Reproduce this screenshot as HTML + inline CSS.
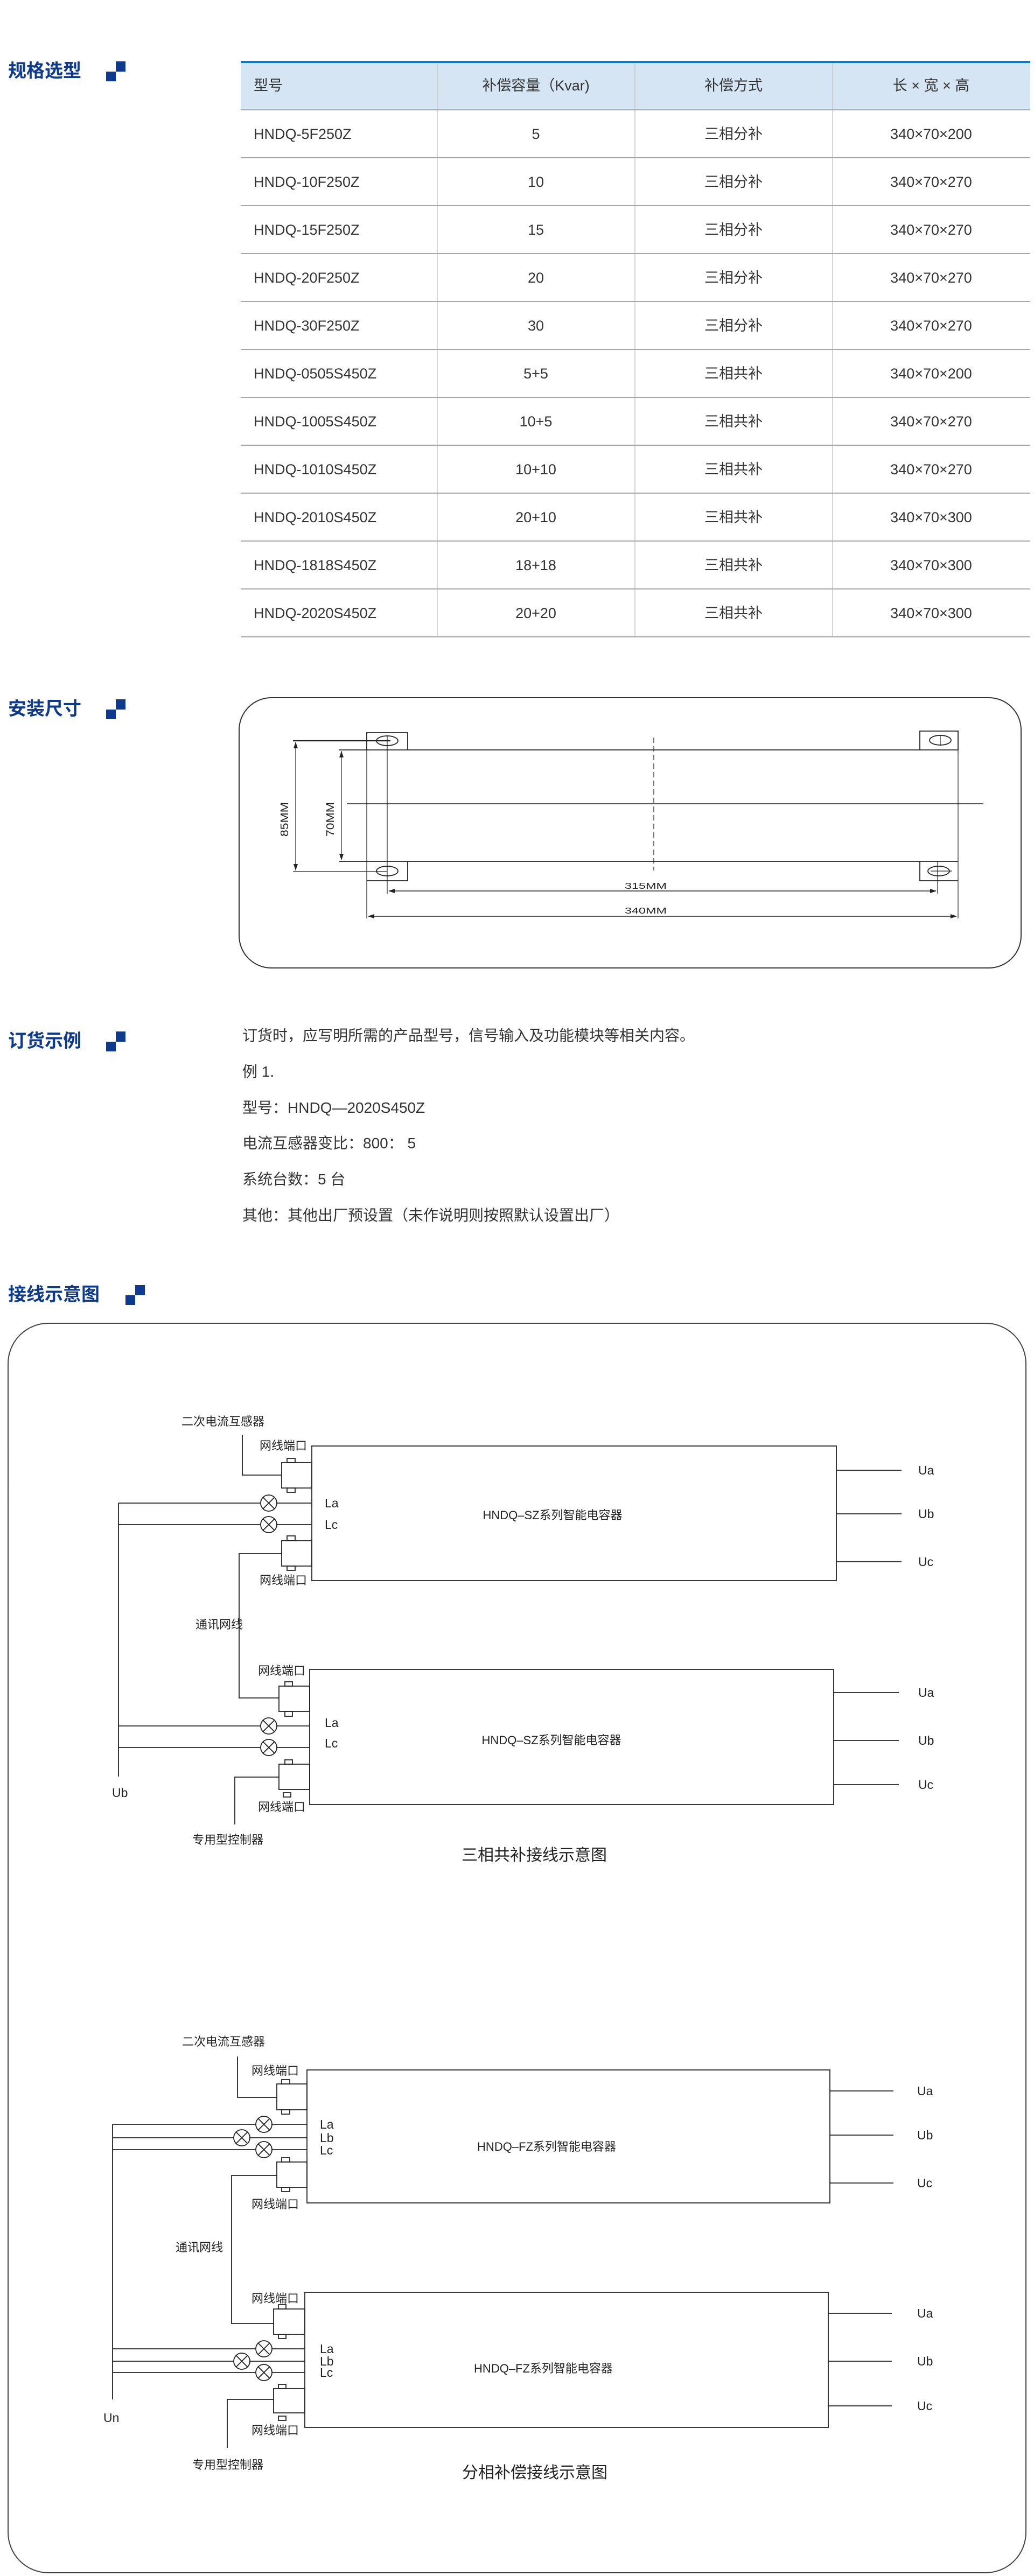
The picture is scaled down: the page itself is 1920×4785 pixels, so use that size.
<!DOCTYPE html>
<html><head><meta charset="utf-8"><style>
html,body{margin:0;padding:0;background:#fff;}
svg{display:block;}
text{font-family:"Liberation Sans","Noto Sans CJK SC",sans-serif;}
.t{font-size:34px;font-weight:bold;fill:#0d3a8c;}
.tb{font-size:27px;fill:#333;}
.p{font-size:28px;fill:#333;}
.d{font-size:22px;fill:#222;}
.l{font-size:23px;fill:#222;}
.c{font-size:30px;fill:#222;}
</style></head><body>
<svg width="1920" height="4785" viewBox="0 0 1920 4785" xmlns="http://www.w3.org/2000/svg">
<!-- section titles -->
<g>
<text class="t" x="15" y="143">规格选型</text>
<rect x="215" y="114" width="18" height="19" fill="#0d3a8c"/><rect x="197" y="133" width="18" height="18" fill="#0d3a8c"/>
<text class="t" x="15" y="1328">安装尺寸</text>
<rect x="215" y="1299" width="18" height="19" fill="#0d3a8c"/><rect x="197" y="1318" width="18" height="18" fill="#0d3a8c"/>
<text class="t" x="15" y="1945">订货示例</text>
<rect x="215" y="1916" width="18" height="19" fill="#0d3a8c"/><rect x="197" y="1935" width="18" height="18" fill="#0d3a8c"/>
<text class="t" x="15" y="2416">接线示意图</text>
<rect x="251" y="2387" width="18" height="19" fill="#0d3a8c"/><rect x="233" y="2406" width="18" height="18" fill="#0d3a8c"/>
</g>
<!-- table -->
<g>
<rect x="447" y="114" width="1466" height="90" fill="#d5e5f4"/>
<rect x="447" y="113" width="1466" height="4" fill="#0a7bd0"/>
<g stroke="#c8c8c8" stroke-width="1.5">
<line x1="812" y1="117" x2="812" y2="1183"/><line x1="1179" y1="117" x2="1179" y2="1183"/><line x1="1546" y1="117" x2="1546" y2="1183"/>
</g>
<g stroke="#a8a8a8" stroke-width="2">
<line x1="447" y1="204" x2="1913" y2="204"/><line x1="447" y1="293" x2="1913" y2="293"/><line x1="447" y1="382" x2="1913" y2="382"/><line x1="447" y1="471" x2="1913" y2="471"/><line x1="447" y1="560" x2="1913" y2="560"/><line x1="447" y1="649" x2="1913" y2="649"/><line x1="447" y1="738" x2="1913" y2="738"/><line x1="447" y1="827" x2="1913" y2="827"/><line x1="447" y1="916" x2="1913" y2="916"/><line x1="447" y1="1005" x2="1913" y2="1005"/><line x1="447" y1="1094" x2="1913" y2="1094"/><line x1="447" y1="1183" x2="1913" y2="1183"/>
</g>
<g class="tb">
<text class="tb" x="471" y="168">型号</text>
<text class="tb" x="995" y="168" text-anchor="middle">补偿容量（Kvar)</text>
<text class="tb" x="1362" y="168" text-anchor="middle">补偿方式</text>
<text class="tb" x="1729" y="168" text-anchor="middle">长 × 宽 × 高</text>
</g>
<g id="rows"></g>
</g>
<g class="tb">
<text class="tb" x="471" y="258">HNDQ-5F250Z</text><text class="tb" x="995" y="258" text-anchor="middle">5</text><text class="tb" x="1362" y="258" text-anchor="middle">三相分补</text><text class="tb" x="1729" y="258" text-anchor="middle">340×70×200</text>
<text class="tb" x="471" y="347">HNDQ-10F250Z</text><text class="tb" x="995" y="347" text-anchor="middle">10</text><text class="tb" x="1362" y="347" text-anchor="middle">三相分补</text><text class="tb" x="1729" y="347" text-anchor="middle">340×70×270</text>
<text class="tb" x="471" y="436">HNDQ-15F250Z</text><text class="tb" x="995" y="436" text-anchor="middle">15</text><text class="tb" x="1362" y="436" text-anchor="middle">三相分补</text><text class="tb" x="1729" y="436" text-anchor="middle">340×70×270</text>
<text class="tb" x="471" y="525">HNDQ-20F250Z</text><text class="tb" x="995" y="525" text-anchor="middle">20</text><text class="tb" x="1362" y="525" text-anchor="middle">三相分补</text><text class="tb" x="1729" y="525" text-anchor="middle">340×70×270</text>
<text class="tb" x="471" y="614">HNDQ-30F250Z</text><text class="tb" x="995" y="614" text-anchor="middle">30</text><text class="tb" x="1362" y="614" text-anchor="middle">三相分补</text><text class="tb" x="1729" y="614" text-anchor="middle">340×70×270</text>
<text class="tb" x="471" y="703">HNDQ-0505S450Z</text><text class="tb" x="995" y="703" text-anchor="middle">5+5</text><text class="tb" x="1362" y="703" text-anchor="middle">三相共补</text><text class="tb" x="1729" y="703" text-anchor="middle">340×70×200</text>
<text class="tb" x="471" y="792">HNDQ-1005S450Z</text><text class="tb" x="995" y="792" text-anchor="middle">10+5</text><text class="tb" x="1362" y="792" text-anchor="middle">三相共补</text><text class="tb" x="1729" y="792" text-anchor="middle">340×70×270</text>
<text class="tb" x="471" y="881">HNDQ-1010S450Z</text><text class="tb" x="995" y="881" text-anchor="middle">10+10</text><text class="tb" x="1362" y="881" text-anchor="middle">三相共补</text><text class="tb" x="1729" y="881" text-anchor="middle">340×70×270</text>
<text class="tb" x="471" y="970">HNDQ-2010S450Z</text><text class="tb" x="995" y="970" text-anchor="middle">20+10</text><text class="tb" x="1362" y="970" text-anchor="middle">三相共补</text><text class="tb" x="1729" y="970" text-anchor="middle">340×70×300</text>
<text class="tb" x="471" y="1059">HNDQ-1818S450Z</text><text class="tb" x="995" y="1059" text-anchor="middle">18+18</text><text class="tb" x="1362" y="1059" text-anchor="middle">三相共补</text><text class="tb" x="1729" y="1059" text-anchor="middle">340×70×300</text>
<text class="tb" x="471" y="1148">HNDQ-2020S450Z</text><text class="tb" x="995" y="1148" text-anchor="middle">20+20</text><text class="tb" x="1362" y="1148" text-anchor="middle">三相共补</text><text class="tb" x="1729" y="1148" text-anchor="middle">340×70×300</text>
</g>

<!-- mounting drawing -->
<g fill="none" stroke="#222" stroke-width="1.8">
<rect x="444" y="1296" width="1452" height="502" rx="60" stroke="#333" stroke-width="2"/>
<polyline points="681,1393 681,1361 757,1361 757,1393"/>
<polyline points="1708,1393 1708,1358 1779,1358 1779,1393"/>
<line x1="629" y1="1393" x2="1779" y2="1393"/>
<line x1="629" y1="1600" x2="1779" y2="1600"/>
<line x1="681" y1="1361" x2="681" y2="1706" stroke-width="1.2"/>
<line x1="1779" y1="1358" x2="1779" y2="1706" stroke-width="1.2"/>
<polyline points="681,1636 757,1636 757,1600"/>
<polyline points="1708,1600 1708,1636 1779,1636"/>
<ellipse cx="719" cy="1376" rx="20" ry="9"/>
<ellipse cx="1746" cy="1375" rx="20" ry="9"/>
<ellipse cx="719" cy="1618" rx="20" ry="9"/>
<ellipse cx="1743" cy="1618" rx="20" ry="9"/>
<line x1="1214" y1="1370" x2="1214" y2="1617" stroke-dasharray="10,6" stroke-width="1.2"/>
<line x1="644" y1="1493" x2="1826" y2="1493" stroke-width="1.5"/>
<line x1="544" y1="1376" x2="725" y2="1376" stroke-width="2.2"/>
<line x1="544" y1="1619" x2="719" y2="1619" stroke-width="1.2"/>
<line x1="549" y1="1378" x2="549" y2="1617" stroke-width="1.2"/>
<line x1="634" y1="1395" x2="634" y2="1598" stroke-width="1.2"/>
<line x1="719" y1="1366" x2="719" y2="1660" stroke-width="1.2"/>
<line x1="1741" y1="1600" x2="1741" y2="1660" stroke-width="1.2"/>
<line x1="1746" y1="1365" x2="1746" y2="1385" stroke-width="1.2"/>
<line x1="1728" y1="1618" x2="1768" y2="1618" stroke-width="1.2"/>
<line x1="722" y1="1655" x2="1738" y2="1655" stroke-width="1.5"/>
<line x1="684" y1="1702" x2="1776" y2="1702" stroke-width="1.5"/>
</g>
<g fill="#222">
<polygon points="549,1378 545,1390 553,1390"/><polygon points="549,1617 545,1605 553,1605"/>
<polygon points="634,1395 630,1407 638,1407"/><polygon points="634,1598 630,1586 638,1586"/>
<polygon points="721,1655 733,1651 733,1659"/><polygon points="1739,1655 1727,1651 1727,1659"/>
<polygon points="683,1702 695,1698 695,1706"/><polygon points="1777,1702 1765,1698 1765,1706"/>
<text x="1199" y="1651" font-size="16" text-anchor="middle" textLength="78" lengthAdjust="spacingAndGlyphs">315MM</text>
<text x="1199" y="1697" font-size="16" text-anchor="middle" textLength="78" lengthAdjust="spacingAndGlyphs">340MM</text>
<text transform="translate(535,1522) rotate(-90)" font-size="20" text-anchor="middle" textLength="64" lengthAdjust="spacingAndGlyphs">85MM</text>
<text transform="translate(620,1522) rotate(-90)" font-size="20" text-anchor="middle" textLength="64" lengthAdjust="spacingAndGlyphs">70MM</text>
</g>

<!-- order text -->
<g>
<text class="p" x="450" y="1933">订货时，应写明所需的产品型号，信号输入及功能模块等相关内容。</text>
<text class="p" x="450" y="2000">例 1.</text>
<text class="p" x="450" y="2067">型号：HNDQ—2020S450Z</text>
<text class="p" x="450" y="2133">电流互感器变比：800：  5</text>
<text class="p" x="450" y="2200">系统台数：5 台</text>
<text class="p" x="450" y="2267">其他：其他出厂预设置（未作说明则按照默认设置出厂）</text>
</g>

<!-- wiring diagram box -->
<rect x="15" y="2458" width="1890" height="2321" rx="75" fill="none" stroke="#444" stroke-width="2"/>

<!-- diagram 1 -->
<g fill="none" stroke="#222" stroke-width="1.8">
<rect x="579" y="2686" width="974" height="250"/>
<polyline points="450,2666 450,2740 523,2740"/>
<rect x="523" y="2717" width="56" height="47"/>
<rect x="533" y="2709" width="15" height="8"/><rect x="533" y="2764" width="15" height="8"/>
<rect x="523" y="2862" width="56" height="47"/>
<rect x="533" y="2853" width="15" height="9"/><rect x="533" y="2909" width="15" height="8"/>
<line x1="220" y1="2792" x2="484" y2="2792"/><line x1="514" y1="2792" x2="579" y2="2792"/>
<line x1="220" y1="2832" x2="484" y2="2832"/><line x1="514" y1="2832" x2="579" y2="2832"/>
<circle cx="499" cy="2792" r="15"/><path d="M488.4,2781.4 L509.6,2802.6 M509.6,2781.4 L488.4,2802.6"/>
<circle cx="499" cy="2832" r="15"/><path d="M488.4,2821.4 L509.6,2842.6 M509.6,2821.4 L488.4,2842.6"/>
<line x1="220" y1="2792" x2="220" y2="3300"/>
<polyline points="523,2886 444,2886 444,3154 518,3154"/>
<line x1="1553" y1="2731" x2="1674" y2="2731"/><line x1="1553" y1="2812" x2="1674" y2="2812"/><line x1="1553" y1="2901" x2="1674" y2="2901"/>
<rect x="575" y="3101" width="973" height="251"/>
<rect x="518" y="3132" width="57" height="47"/>
<rect x="529" y="3124" width="14" height="8"/><rect x="529" y="3179" width="14" height="9"/>
<rect x="518" y="3277" width="57" height="47"/>
<rect x="529" y="3269" width="14" height="8"/><rect x="526" y="3330" width="14" height="8"/>
<line x1="220" y1="3206" x2="484" y2="3206"/><line x1="514" y1="3206" x2="575" y2="3206"/>
<line x1="220" y1="3246" x2="484" y2="3246"/><line x1="514" y1="3246" x2="575" y2="3246"/>
<circle cx="499" cy="3206" r="15"/><path d="M488.4,3195.4 L509.6,3216.6 M509.6,3195.4 L488.4,3216.6"/>
<circle cx="499" cy="3246" r="15"/><path d="M488.4,3235.4 L509.6,3256.6 M509.6,3235.4 L488.4,3256.6"/>
<polyline points="518,3301 436,3301 436,3389"/>
<line x1="1548" y1="3144" x2="1669" y2="3144"/><line x1="1548" y1="3233" x2="1669" y2="3233"/><line x1="1548" y1="3315" x2="1669" y2="3315"/>
</g>
<g>
<text class="d" x="337" y="2648">二次电流互感器</text>
<text class="d" x="482" y="2693">网线端口</text>
<text class="d" x="482" y="2943">网线端口</text>
<text class="l" x="603" y="2800">La</text>
<text class="l" x="603" y="2840">Lc</text>
<text class="d" x="1026" y="2822" text-anchor="middle">HNDQ–SZ系列智能电容器</text>
<text class="l" x="1705" y="2739">Ua</text><text class="l" x="1705" y="2820">Ub</text><text class="l" x="1705" y="2909">Uc</text>
<text class="d" x="363" y="3025">通讯网线</text>
<text class="d" x="479" y="3111">网线端口</text>
<text class="d" x="479" y="3364">网线端口</text>
<text class="l" x="603" y="3208">La</text>
<text class="l" x="603" y="3246">Lc</text>
<text class="d" x="1024" y="3240" text-anchor="middle">HNDQ–SZ系列智能电容器</text>
<text class="l" x="1705" y="3152">Ua</text><text class="l" x="1705" y="3241">Ub</text><text class="l" x="1705" y="3323">Uc</text>
<text class="l" x="208" y="3338">Ub</text>
<text class="d" x="357" y="3425">专用型控制器</text>
<text class="c" x="992" y="3456" text-anchor="middle">三相共补接线示意图</text>
</g>

<!-- diagram 2 -->
<g fill="none" stroke="#222" stroke-width="1.8">
<rect x="570" y="3845" width="971" height="247"/>
<polyline points="441,3820 441,3896 514,3896"/>
<rect x="514" y="3871" width="56" height="48"/>
<rect x="523" y="3863" width="15" height="8"/><rect x="523" y="3919" width="15" height="8"/>
<rect x="514" y="4016" width="56" height="47"/>
<rect x="523" y="4008" width="15" height="8"/><rect x="523" y="4063" width="15" height="8"/>
<line x1="209" y1="3946" x2="475" y2="3946"/><line x1="505" y1="3946" x2="570" y2="3946"/>
<line x1="209" y1="3971" x2="434" y2="3971"/><line x1="464" y1="3971" x2="570" y2="3971"/>
<line x1="209" y1="3993" x2="475" y2="3993"/><line x1="505" y1="3993" x2="570" y2="3993"/>
<circle cx="490" cy="3946" r="15"/><path d="M479.4,3935.4 L500.6,3956.6 M500.6,3935.4 L479.4,3956.6"/>
<circle cx="449" cy="3971" r="15"/><path d="M438.4,3960.4 L459.6,3981.6 M459.6,3960.4 L438.4,3981.6"/>
<circle cx="490" cy="3993" r="15"/><path d="M479.4,3982.4 L500.6,4003.6 M500.6,3982.4 L479.4,4003.6"/>
<line x1="209" y1="3946" x2="209" y2="4457"/>
<polyline points="514,4041 430,4041 430,4316 508,4316"/>
<line x1="1541" y1="3884" x2="1659" y2="3884"/><line x1="1541" y1="3966" x2="1659" y2="3966"/><line x1="1541" y1="4055" x2="1659" y2="4055"/>
<rect x="566" y="4258" width="972" height="251"/>
<rect x="508" y="4289" width="58" height="47"/>
<rect x="517" y="4281" width="14" height="8"/><rect x="517" y="4336" width="14" height="8"/>
<rect x="508" y="4437" width="58" height="45"/>
<rect x="517" y="4429" width="14" height="8"/><rect x="517" y="4488" width="14" height="8"/>
<line x1="209" y1="4363" x2="475" y2="4363"/><line x1="505" y1="4363" x2="566" y2="4363"/>
<line x1="209" y1="4386" x2="434" y2="4386"/><line x1="464" y1="4386" x2="566" y2="4386"/>
<line x1="209" y1="4407" x2="475" y2="4407"/><line x1="505" y1="4407" x2="566" y2="4407"/>
<circle cx="490" cy="4363" r="15"/><path d="M479.4,4352.4 L500.6,4373.6 M500.6,4352.4 L479.4,4373.6"/>
<circle cx="449" cy="4386" r="15"/><path d="M438.4,4375.4 L459.6,4396.6 M459.6,4375.4 L438.4,4396.6"/>
<circle cx="490" cy="4407" r="15"/><path d="M479.4,4396.4 L500.6,4417.6 M500.6,4396.4 L479.4,4417.6"/>
<polyline points="508,4457 422,4457 422,4547"/>
<line x1="1538" y1="4297" x2="1656" y2="4297"/><line x1="1538" y1="4386" x2="1656" y2="4386"/><line x1="1538" y1="4469" x2="1656" y2="4469"/>
</g>
<g>
<text class="d" x="338" y="3800">二次电流互感器</text>
<text class="d" x="467" y="3854">网线端口</text>
<text class="d" x="467" y="4102">网线端口</text>
<text class="l" x="594" y="3954">La</text>
<text class="l" x="594" y="3979">Lb</text>
<text class="l" x="594" y="4002">Lc</text>
<text class="d" x="1015" y="3995" text-anchor="middle">HNDQ–FZ系列智能电容器</text>
<text class="l" x="1703" y="3892">Ua</text><text class="l" x="1703" y="3974">Ub</text><text class="l" x="1703" y="4063">Uc</text>
<text class="d" x="326" y="4182">通讯网线</text>
<text class="d" x="467" y="4277">网线端口</text>
<text class="d" x="467" y="4522">网线端口</text>
<text class="l" x="594" y="4371">La</text>
<text class="l" x="594" y="4394">Lb</text>
<text class="l" x="594" y="4415">Lc</text>
<text class="d" x="1009" y="4407" text-anchor="middle">HNDQ–FZ系列智能电容器</text>
<text class="l" x="1703" y="4305">Ua</text><text class="l" x="1703" y="4394">Ub</text><text class="l" x="1703" y="4477">Uc</text>
<text class="l" x="192" y="4499">Un</text>
<text class="d" x="357" y="4586">专用型控制器</text>
<text class="c" x="993" y="4603" text-anchor="middle">分相补偿接线示意图</text>
</g>
</svg>
</body></html>
